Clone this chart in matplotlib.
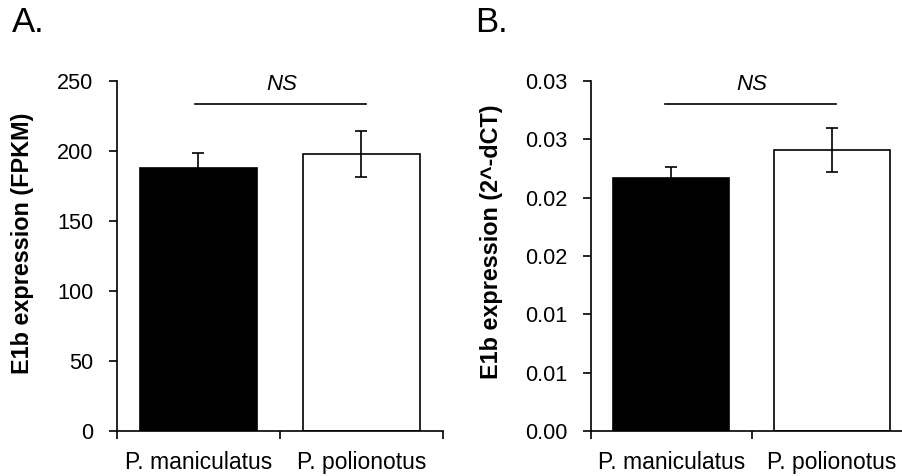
import matplotlib
matplotlib.use("Agg")
import matplotlib.pyplot as plt
from matplotlib.ticker import FixedLocator, FixedFormatter

plt.rcParams['font.family'] = ['Liberation Sans', 'DejaVu Sans']

categories = ["P. maniculatus", "P. polionotus"]
bar_colors = ["black", "white"]

# Panel A (FPKM)
a_values = [187.9, 197.9]
a_errors = [11.0, 16.5]
a_yticks = [0, 50, 100, 150, 200, 250]
a_yticklabels = ["0", "50", "100", "150", "200", "250"]
a_ns_y = 233.6

# Panel B (2^-dCT)
b_values = [0.02166, 0.02406]
b_errors = [0.0010, 0.0019]
b_yticks = [0.0, 0.005, 0.010, 0.015, 0.020, 0.025, 0.030]
b_yticklabels = ["0.00", "0.01", "0.01", "0.02", "0.02", "0.03", "0.03"]
b_ns_y = 0.0280

fig = plt.figure(figsize=(9.02, 4.76), dpi=100)

W, H = 902.0, 476.0
axA = fig.add_axes([117 / W, 1 - 431 / H, 326 / W, 350 / H])
axB = fig.add_axes([591 / W, 1 - 431 / H, 321.4 / W, 350 / H])

FS_TICK = 15.6
FS_X = 16.5
FS_YLAB = 16.8
FS_NS = 16
LW = 1.2


def draw(ax, values, errors, yticks, yticklabels, ylim, ylabel, ns_y, ns_x,
         ns_text_x, ylab_x, ylab_y):
    x = list(range(len(categories)))
    ax.bar(x, values, width=0.72, color=bar_colors, edgecolor="black",
           linewidth=LW, zorder=2)
    ax.errorbar(x, values, yerr=errors, fmt="none", ecolor="black",
                elinewidth=LW, capsize=4.6, capthick=LW, zorder=3)
    ax.set_xlim(-0.5, 1.5)
    ax.set_ylim(*ylim)
    for s in ["top", "right"]:
        ax.spines[s].set_visible(False)
    for s in ["left", "bottom"]:
        ax.spines[s].set_linewidth(LW)
    ax.yaxis.set_major_locator(FixedLocator(yticks))
    ax.yaxis.set_major_formatter(FixedFormatter(yticklabels))
    ax.tick_params(axis="y", direction="out", length=6, width=LW,
                   labelsize=FS_TICK, pad=11)
    # category boundary ticks (no labels)
    ax.set_xticks([-0.5, 0.5, 1.5])
    ax.set_xticklabels([])
    ax.tick_params(axis="x", direction="out", length=6, width=LW)
    ax.set_xticks(x, minor=True)
    ax.set_xticklabels(categories, minor=True, fontsize=FS_X)
    ax.tick_params(axis="x", which="minor", length=0, pad=14.4)
    ax.set_ylabel(ylabel, fontsize=FS_YLAB, fontweight="bold")
    ax.yaxis.label.set_verticalalignment("center")
    ax.yaxis.set_label_coords(ylab_x, ylab_y)
    ax.plot(ns_x, [ns_y, ns_y], color="black", linewidth=LW,
            clip_on=False, zorder=3)
    ax.text(ns_text_x, 0.991, "NS", fontsize=FS_NS, style="italic",
            ha="center", va="center", transform=ax.get_xaxis_transform())


draw(axA, a_values, a_errors, a_yticks, a_yticklabels, (0, 250),
     "E1b expression (FPKM)", a_ns_y, [-0.02, 1.03], 0.51,
     (23 - 117) / 326, (431 - 243.5) / 350)
draw(axB, b_values, b_errors, b_yticks, b_yticklabels, (0, 0.030),
     "E1b expression (2^-dCT)", b_ns_y, [-0.04, 1.025], 0.50,
     (491.7 - 591) / 321.4, (431 - 242) / 350)

fig.text(12 / W, 1 - 22.5 / H, "A.", fontsize=25, ha="left", va="center")
fig.text(475 / W, 1 - 22.5 / H, "B.", fontsize=25, ha="left", va="center")

fig.savefig("out.png", dpi=100)
